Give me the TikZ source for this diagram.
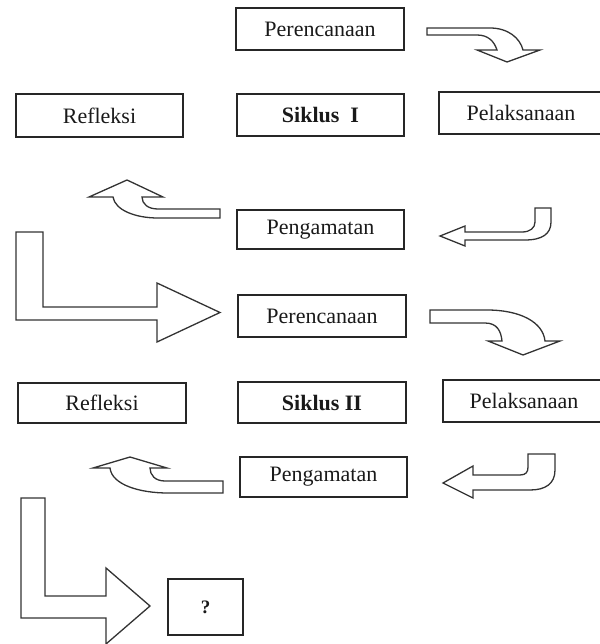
\documentclass[tikz,border=0pt]{standalone}
\usepackage{fontspec}
\setmainfont{Liberation Serif}
\begin{document}
\begin{tikzpicture}[x=1pt,y=-1pt,
  box/.style={draw=black!85, line width=1.8pt, inner sep=0pt, text=black!90,
    font=\fontsize{22}{24}\selectfont},
  blockarrow/.style={draw=black!80, line width=1.3pt, line join=miter, fill=white}]
\useasboundingbox (0,0) rectangle (599,644);
% boxes
\node[box, minimum width=168, minimum height=42] (per1) at (320,29) {Perencanaan};
\node[box, minimum width=167, minimum height=43] (ref1) at (99.5,115.5) {Refleksi};
\node[box, minimum width=167, minimum height=42] (sik1) at (320.5,115) {\textbf{Siklus\ \ I}};
\node[box, minimum width=164, minimum height=42] (pel1) at (521,113) {Pelaksanaan};
\node[box, minimum width=167, minimum height=39] (pen1) at (320.5,229.5) {Pengamatan};
\node[box, minimum width=168, minimum height=42] (per2) at (322,316) {Perencanaan};
\node[box, minimum width=168, minimum height=40] (ref2) at (102,403) {Refleksi};
\node[box, minimum width=168, minimum height=41] (sik2) at (322,402.5) {\textbf{Siklus II}};
\node[box, minimum width=162, minimum height=42] (pel2) at (524,401) {Pelaksanaan};
\node[box, minimum width=167, minimum height=40] (pen2) at (323.5,477) {Pengamatan};
\node[box, minimum width=75, minimum height=56, font=\fontsize{19}{20}\selectfont\bfseries] (q) at (205.5,607) {?};
% curved arrow: Perencanaan -> Pelaksanaan (cycle I)
\draw[blockarrow] (427,28) -- (490,28) .. controls (508,28) and (520,38) .. (523,50)
  -- (540,50) -- (507,62) -- (477,50) -- (497,50)
  .. controls (494,41) and (488,35) .. (477,35) -- (427,35) -- cycle;
% hook arrow: Pelaksanaan -> Pengamatan (cycle I)
\draw[blockarrow] (535,208) -- (551,208) -- (551,222)
  .. controls (551,234) and (542,240) .. (525,240) -- (465,240) -- (465,246)
  -- (440,236) -- (465,226) -- (465,232) -- (522,232)
  .. controls (530,232) and (535,228) .. (535,222) -- cycle;
% curved arrow: Pengamatan -> Refleksi (cycle I)
\draw[blockarrow] (220,209) -- (158,209) .. controls (148,209) and (142,204) .. (142,197)
  -- (163,197) -- (127,180) -- (89,197) -- (113,197)
  .. controls (115,210) and (135,218) .. (158,218) -- (220,218) -- cycle;
% L arrow into cycle II
\draw[blockarrow] (16,232) -- (43,232) -- (43,307) -- (157,307) -- (157,283)
  -- (220,312.5) -- (157,342) -- (157,320) -- (16,320) -- cycle;
% curved arrow: Perencanaan -> Pelaksanaan (cycle II)
\draw[blockarrow] (430,310) -- (487,310) .. controls (520,310) and (543,322) .. (545,341)
  -- (560,341) -- (523,355) -- (488,341) -- (502,341)
  .. controls (501,331) and (497,323) .. (485,323) -- (430,323) -- cycle;
% hook arrow: Pelaksanaan -> Pengamatan (cycle II)
\draw[blockarrow] (528,454) -- (555,454) -- (555,470)
  .. controls (555,484) and (545,490) .. (530,490) -- (473,490) -- (473,498)
  -- (443,483) -- (473,466) -- (473,475) -- (520,475)
  .. controls (526,475) and (528,472) .. (528,467) -- cycle;
% curved arrow: Pengamatan -> Refleksi (cycle II)
\draw[blockarrow] (223,481) -- (165,481) .. controls (155,481) and (150,475) .. (150,468)
  -- (167,468) -- (130,457) -- (93,468) -- (110,468)
  .. controls (112,485) and (140,493) .. (168,493) -- (223,493) -- cycle;
% L arrow into ?
\draw[blockarrow] (21,498) -- (45,498) -- (45,596) -- (106,596) -- (106,568)
  -- (150,606) -- (106,644) -- (106,618) -- (21,618) -- cycle;
\end{tikzpicture}
\end{document}
